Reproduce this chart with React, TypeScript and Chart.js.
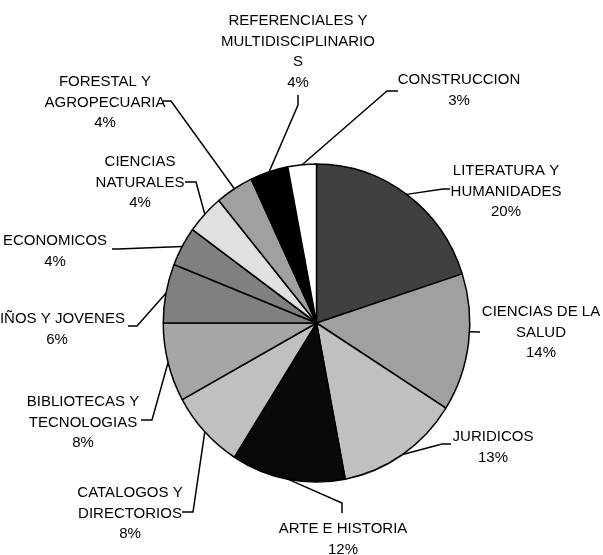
import React, { useEffect, useRef } from "react";
import { Chart, registerables } from "chart.js";

Chart.register(...registerables);

// ---- data ----
const CATEGORIES: string[][] = [
  ["LITERATURA Y", "HUMANIDADES"],
  ["CIENCIAS DE LA", "SALUD"],
  ["JURIDICOS"],
  ["ARTE E HISTORIA"],
  ["CATALOGOS Y", "DIRECTORIOS"],
  ["BIBLIOTECAS Y", "TECNOLOGIAS"],
  ["NIÑOS Y JOVENES"],
  ["ECONOMICOS"],
  ["CIENCIAS", "NATURALES"],
  ["FORESTAL Y", "AGROPECUARIA"],
  ["REFERENCIALES Y", "MULTIDISCIPLINARIO", "S"],
  ["CONSTRUCCION"],
];
const VALUES: number[] = [20, 14, 13, 12, 8, 8, 6, 4, 4, 4, 4, 3];

// ---- styles ----
const COLORS: string[] = [
  "#404040", "#a0a0a0", "#c0c0c0", "#080808", "#c0c0c0", "#a6a6a6",
  "#808080", "#808080", "#e0e0e0", "#a0a0a0", "#000000", "#ffffff",
];

// label layout: text centre x, first line y, attach fraction within slice, elbow, end of leader
type Layout = { cx: number; y0: number; t?: number; elbow?: [number, number]; end: [number, number] };
const LABEL_LAYOUT: Layout[] = [
  { cx: 506, y0: 171, elbow: [443, 189], end: [450, 189] },
  { cx: 541, y0: 312, t: 0.42, end: [480, 332] },
  { cx: 493, y0: 437, elbow: [442, 444], end: [451, 444] },
  { cx: 343, y0: 529, elbow: [342, 503], end: [342, 513] },
  { cx: 130, y0: 493, elbow: [193, 512], end: [182, 512] },
  { cx: 83, y0: 402, elbow: [152, 420], end: [141, 420] },
  { cx: 57, y0: 319, elbow: [137, 326], end: [128, 326] },
  { cx: 55, y0: 241, elbow: [118, 249], end: [112, 249] },
  { cx: 140, y0: 162, elbow: [196, 182], end: [185, 182] },
  { cx: 105, y0: 82, elbow: [171, 101], end: [163, 101] },
  { cx: 298, y0: 21, elbow: [298, 105], end: [298, 95] },
  { cx: 459, y0: 80, elbow: [387, 91], end: [398, 91] },
];
const LINE_H = 20.6;
const SCALE_Y = 1.0375;
const FONT = "15px 'Liberation Sans', Arial, sans-serif";

const ellipsePlugin = {
  id: "ellipse",
  beforeDatasetsDraw(chart: any) {
    const arc = chart.getDatasetMeta(0).data[0];
    if (!arc) return;
    const { x, y } = arc.getProps(["x", "y"], true);
    const ctx = chart.ctx;
    ctx.save();
    ctx.translate(x, y);
    ctx.scale(1, SCALE_Y);
    ctx.translate(-x, -y);
  },
  afterDatasetsDraw(chart: any) {
    chart.ctx.restore();
  },
};

const labelPlugin = {
  id: "outLabels",
  afterDraw(chart: any) {
    const ctx = chart.ctx;
    const meta = chart.getDatasetMeta(0);
    const data = chart.data.datasets[0].data as number[];
    const total = data.reduce((a, b) => a + b, 0);
    ctx.save();
    ctx.font = FONT;
    ctx.fillStyle = "#000";
    ctx.strokeStyle = "#000";
    ctx.lineWidth = 1.5;
    ctx.textAlign = "center";
    ctx.textBaseline = "middle";
    meta.data.forEach((el: any, i: number) => {
      const p = el.getProps(["x", "y", "startAngle", "endAngle", "outerRadius"], true);
      const lay = LABEL_LAYOUT[i];
      const t = lay.t ?? 0.5;
      const a = p.startAngle + t * (p.endAngle - p.startAngle);
      const ax = p.x + p.outerRadius * Math.cos(a);
      const ay = p.y + p.outerRadius * Math.sin(a) * SCALE_Y;
      ctx.beginPath();
      ctx.moveTo(ax, ay);
      if (lay.elbow) ctx.lineTo(lay.elbow[0], lay.elbow[1]);
      ctx.lineTo(lay.end[0], lay.end[1]);
      ctx.stroke();
      const lines = [...(chart.data.labels[i] as string[]), Math.round((data[i] / total) * 100) + "%"];
      lines.forEach((s, k) => ctx.fillText(s, lay.cx, lay.y0 + k * LINE_H));
    });
    ctx.restore();
  },
};

export default function App() {
  const ref = useRef<HTMLCanvasElement | null>(null);
  useEffect(() => {
    if (!ref.current) return;
    const chart = new Chart(ref.current, {
      type: "pie",
      data: {
        labels: CATEGORIES as any,
        datasets: [
          {
            data: VALUES,
            backgroundColor: COLORS,
            borderColor: "#000",
            borderWidth: 1.5,
          },
        ],
      },
      options: {
        responsive: false,
        animation: false,
        devicePixelRatio: 1,
        layout: { padding: { left: 162, right: 132, top: 169, bottom: 78 } },
        plugins: { legend: { display: false }, tooltip: { enabled: false } },
      },
      plugins: [ellipsePlugin, labelPlugin],
    });
    return () => chart.destroy();
  }, []);
  return (
    <div style={{ position: "absolute", left: 0, top: 0, width: 603, height: 555, background: "#fff" }}>
      <canvas ref={ref} width={603} height={555} />
    </div>
  );
}
